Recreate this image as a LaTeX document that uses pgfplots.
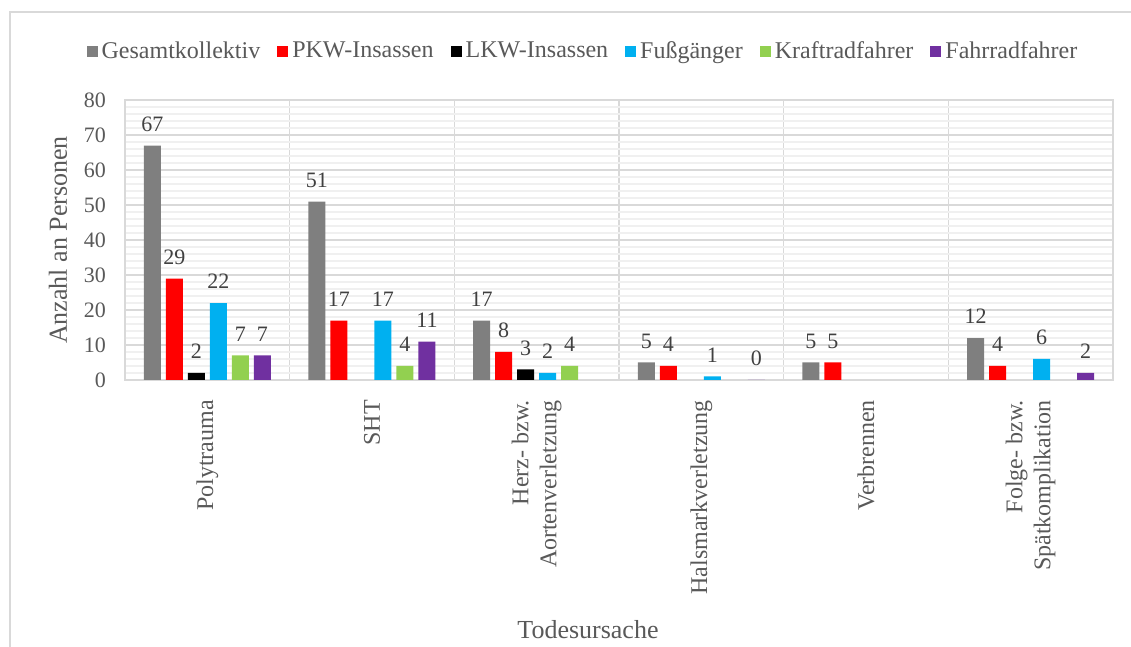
\documentclass[border=0pt]{standalone}
\usepackage{fontspec}
\setmainfont{Liberation Serif}
\usepackage{pgfplots}
\pgfplotsset{compat=1.18}
\definecolor{cGes}{HTML}{7F7F7F}
\definecolor{cPKW}{HTML}{FF0000}
\definecolor{cLKW}{HTML}{000000}
\definecolor{cFuss}{HTML}{00B0F0}
\definecolor{cKraft}{HTML}{92D050}
\definecolor{cRad}{HTML}{7030A0}
\definecolor{gridmaj}{HTML}{D9D9D9}
\definecolor{gridmin}{HTML}{F0F0F0}
\definecolor{txt}{HTML}{595959}
\definecolor{lbl}{HTML}{404040}
\pgfplotsset{sq/.style={fill=#1, draw=none, legend image code/.code={\fill[#1] (0pt,-2.75pt) rectangle (5.5pt,2.75pt);}}}
\begin{document}
\begin{tikzpicture}
\begin{axis}[
  at={(62.5pt,133.5pt)}, anchor=south west,
  scale only axis, width=494pt, height=140pt,
  ybar=2.5pt, bar width=8.5pt,
  xmin=-0.5, xmax=5.5, ymin=0, ymax=80,
  xtick={0,...,5},
  xticklabels={Polytrauma, SHT, {Herz- bzw.\\Aortenverletzung}, Halsmarkverletzung, Verbrennen, {Folge- bzw.\\Spätkomplikation}},
  minor xtick={-0.5,0.5,1.5,2.5,3.5,4.5,5.5},
  ytick={0,10,...,80},
  minor ytick={2,4,6,8,12,14,16,18,22,24,26,28,32,34,36,38,42,44,46,48,52,54,56,58,62,64,66,68,72,74,76,78},
  xmajorgrids=false, xminorgrids=true, ymajorgrids=true, yminorgrids=true,
  major grid style={draw=gridmaj, line width=0.7pt},
  minor grid style={draw=gridmin, line width=0.6pt},
  minor x grid style={draw=gridmaj, line width=0.7pt},
  major tick length=0pt, minor tick length=0pt,
  axis line style={draw=gridmaj, line width=0.8pt},
  /pgf/number format/assume math mode=true,
  yticklabel style={font=\fontsize{11}{13}\selectfont, text=txt, xshift=-6pt},
  xticklabel style={font=\fontsize{12}{14}\selectfont, text=txt, rotate=90, anchor=east, align=right, xshift=-6.5pt},
  ylabel={Anzahl an Personen},
  ylabel style={at={(rel axis cs:-0.0678,0.5)}, anchor=center, font=\fontsize{13}{15}\selectfont, text=txt},
  xlabel={Todesursache},
  xlabel style={at={(rel axis cs:0.4686,-0.893)}, anchor=center, font=\fontsize{13}{15}\selectfont, text=txt},
  nodes near coords,
  every node near coord/.append style={font=\fontsize{11}{13}\selectfont, text=lbl, yshift=3.5pt},
  legend columns=6,
  legend style={draw=none, fill=none, at={(rel axis cs:0.4646,1.1732)}, anchor=center,
    font=\fontsize{12}{14}\selectfont, text=txt, nodes={inner xsep=2pt},
    /tikz/every even column/.append style={column sep=6.5pt}},
]
\addplot[sq=cGes] coordinates {(0,67)(1,51)(2,17)(3,5)(4,5)(5,12)};
\addplot[sq=cPKW] coordinates {(0,29)(1,17)(2,8)(3,4)(4,5)(5,4)};
\addplot[sq=cLKW] coordinates {(0,2)(2,3)};
\addplot[sq=cFuss] coordinates {(0,22)(1,17)(2,2)(3,1)(5,6)};
\addplot[sq=cKraft] coordinates {(0,7)(1,4)(2,4)};
\addplot[sq=cRad] coordinates {(0,7)(1,11)(3,0)(5,2)};
\legend{Gesamtkollektiv, PKW-Insassen, LKW-Insassen, Fußgänger, Kraftradfahrer, Fahrradfahrer}
\end{axis}
\draw[gridmaj, line width=0.8pt] (5pt,0pt) -- (5pt,317.5pt) -- (565.5pt,317.5pt);
\pgfresetboundingbox
\path[use as bounding box] (0pt,0pt) rectangle (565.5pt,323.5pt);
\end{tikzpicture}
\end{document}
